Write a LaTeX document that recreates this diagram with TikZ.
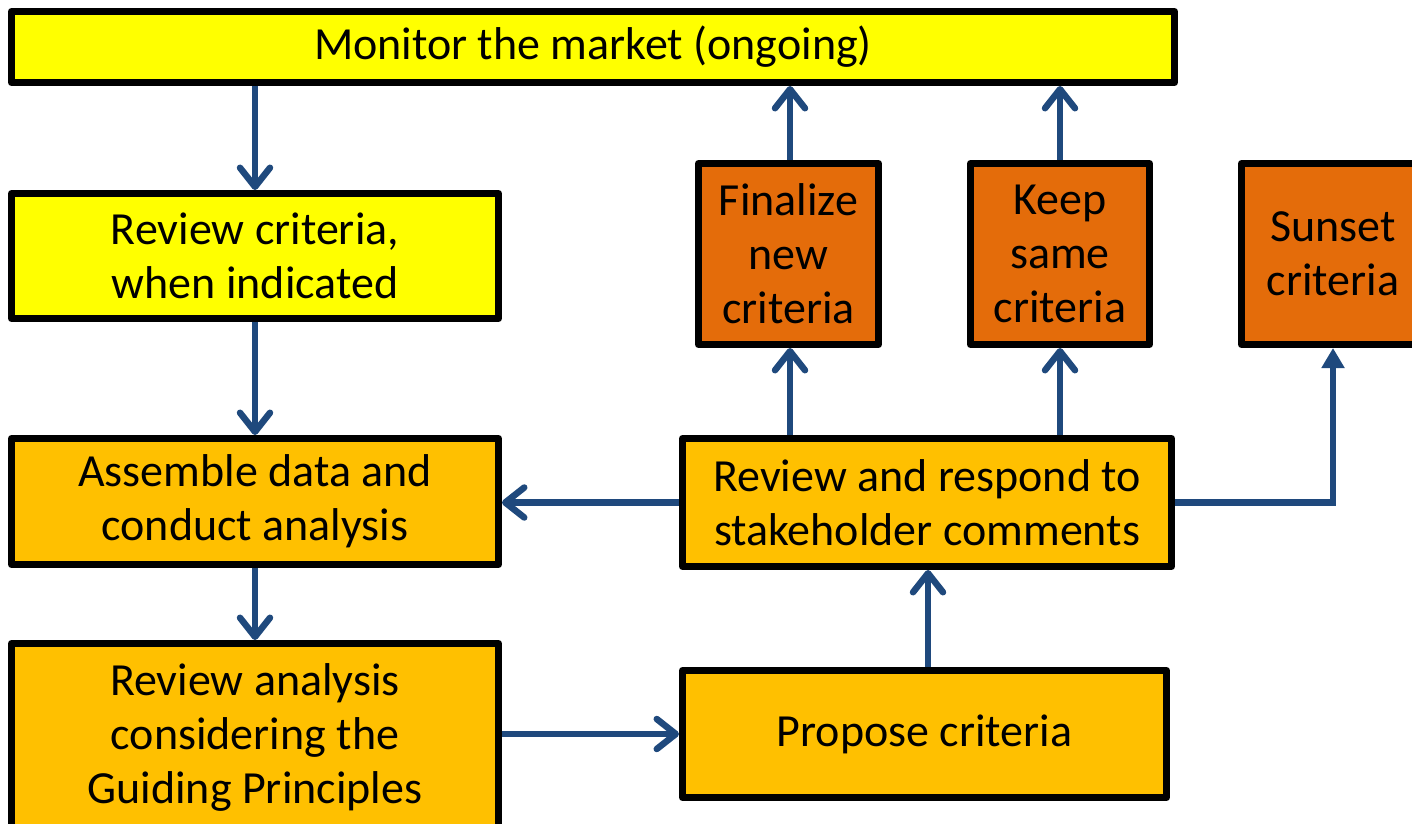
\documentclass[tikz,border=0pt]{standalone}
\usepackage{fontspec}
\setmainfont{Carlito}
\usetikzlibrary{arrows.meta}
\definecolor{lemon}{HTML}{FFFF00}
\definecolor{amber}{HTML}{FFC000}
\definecolor{rust}{HTML}{E46C0A}
\definecolor{flowblue}{HTML}{1F497D}
\begin{document}
\begin{tikzpicture}[x=1pt,y=-1pt,
  box/.style={draw=black, line width=7pt, line join=round, rectangle,
    align=center, inner sep=0pt,
    font=\fontsize{46}{54}\selectfont},
  flow/.style={draw=flowblue, line width=6.5pt,
    -{Straight Barb[length=19pt,width=30pt,line cap=round,line join=round]}},
  solidflow/.style={draw=flowblue, line width=6.5pt,
    -{Triangle[length=20pt,width=22pt]}},
]
\useasboundingbox (0,0) rectangle (1412,823);
\clip (0,0) rectangle (1412,823);

% process boxes
\node[box, fill=lemon, minimum width=1163pt, minimum height=71pt] (mon) at (593,47) {Monitor the market (ongoing)};
\node[box, fill=lemon, minimum width=487pt, minimum height=125pt] (rev) at (255,256) {Review criteria,\\when indicated};
\node[box, fill=amber, minimum width=487pt, minimum height=126pt] (asm) at (255,501.5) {Assemble data and\\conduct analysis};
\node[box, fill=amber, minimum width=487pt, minimum height=187pt] (ana) at (255,737) {Review analysis\\considering the\\Guiding Principles};
\node[box, fill=amber, minimum width=484pt, minimum height=127pt] (prop) at (924.5,734) {Propose criteria};
\node[box, fill=amber, minimum width=489pt, minimum height=128pt] (resp) at (927,502.5) {Review and respond to\\stakeholder comments};
\node[box, fill=rust, minimum width=180pt, minimum height=181pt] (fin) at (788.5,254) {Finalize\\new\\criteria};
\node[box, fill=rust, minimum width=179pt, minimum height=181pt] (keep) at (1060,254) {Keep\\same\\criteria};
\node[box, fill=rust, minimum width=183pt, minimum height=181pt] (sun) at (1333,254) {Sunset\\criteria};

% connectors
\draw[flow] (mon.south -| rev) -- (rev.north);
\draw[flow] (rev.south) -- (asm.north);
\draw[flow] (asm.south) -- (ana.north);
\draw[flow] (ana.east |- prop) -- (prop.west);
\draw[flow] (prop.north -| 928,0) -- (resp.south -| 928,0);
\draw[flow] (resp.west) -- (asm.east |- resp);
\draw[flow] (resp.north -| 790,0) -- (fin.south -| 790,0);
\draw[flow] (resp.north -| keep) -- (keep.south);
\draw[flow] (fin.north -| 790,0) -- (mon.south -| 790,0);
\draw[flow] (keep.north) -- (mon.south -| keep);
\draw[solidflow] (resp.east) -| (sun.south);
\end{tikzpicture}
\end{document}
